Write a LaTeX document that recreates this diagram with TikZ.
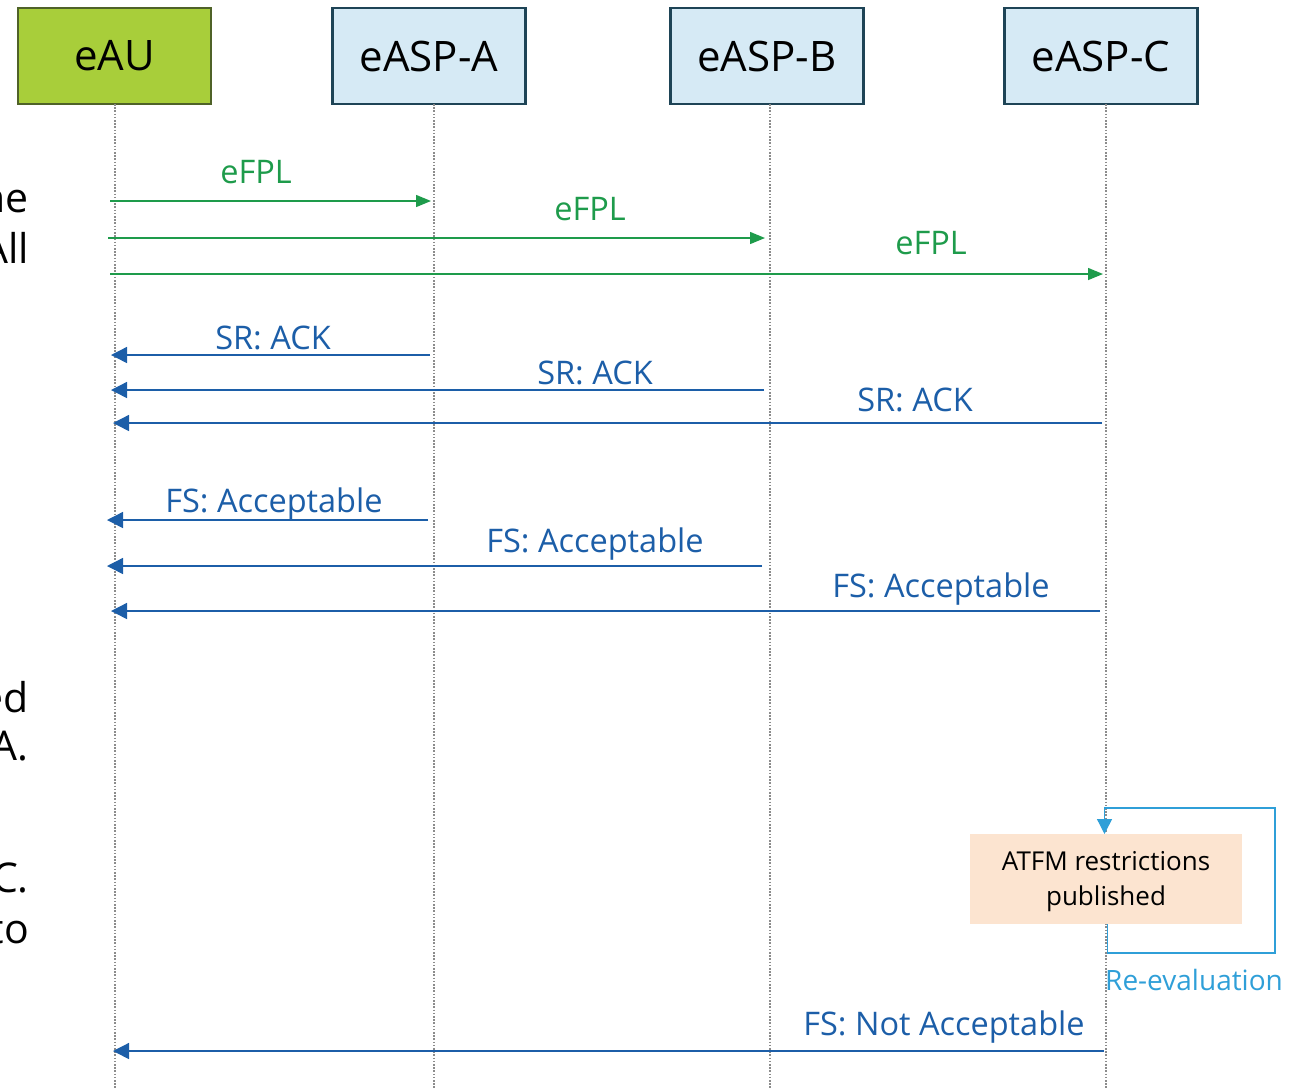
\documentclass[tikz,border=0pt]{standalone}
\usepackage{fontspec}
\setmainfont{Open Sans}
\usetikzlibrary{arrows.meta}

\definecolor{auFill}{HTML}{A8CE3A}
\definecolor{auLine}{HTML}{4F6228}
\definecolor{aspFill}{HTML}{D6EAF5}
\definecolor{aspLine}{HTML}{1E4456}
\definecolor{msgGreen}{HTML}{1E9B4B}
\definecolor{msgBlue}{HTML}{1C5EA8}
\definecolor{loopBlue}{HTML}{2F9FD8}
\definecolor{noteFill}{HTML}{FCE4D0}
\definecolor{lifeGray}{HTML}{8C8C8C}

\tikzset{
  actor/.style={minimum width=193pt, minimum height=96pt, line width=2.4pt,
    inner sep=0pt, font=\fontsize{42}{48}\selectfont},
  aubox/.style={actor, fill=auFill, draw=auLine},
  aspbox/.style={actor, fill=aspFill, draw=aspLine},
  lifeline/.style={draw=lifeGray, line width=1.6pt, dash pattern=on 1.6pt off 1.6pt},
  sendmsg/.style={draw=msgGreen, line width=1.4pt, -{Triangle[length=15pt,width=12pt]}},
  replymsg/.style={draw=msgBlue, line width=1.4pt, -{Triangle[length=16pt,width=16pt]}},
  sendlbl/.style={text=msgGreen, anchor=base, inner sep=0pt, font=\fontsize{32.5}{36}\selectfont},
  replylbl/.style={text=msgBlue, anchor=base, inner sep=0pt, font=\fontsize{32.5}{36}\selectfont},
  sidetext/.style={anchor=base east, inner sep=0pt, font=\fontsize{41}{46}\selectfont},
  note/.style={fill=noteFill, minimum width=272pt, minimum height=90pt, align=center,
    inner sep=0pt, font=\fontsize{26}{35}\selectfont},
  loopline/.style={draw=loopBlue, line width=1.3pt},
}

\begin{document}
\begin{tikzpicture}[x=1pt,y=-1pt]
\useasboundingbox (0,0) rectangle (1289,1088);

% side text running in from the left edge
\begin{scope}
\clip (0,0) rectangle (1289,1088);
\node[sidetext] (s1) at (29,212) {ne};
\node[sidetext] (s2) at (29,263) {All};
\node[sidetext] (s3) at (29,712) {ed};
\node[sidetext] (s4) at (29,760) {A.};
\node[sidetext] (s5) at (29,892) {C.};
\node[sidetext] (s6) at (29,943) {to};
\end{scope}

% participants
\node[aubox]  (eau) at (114.5,56) {eAU};
\node[aspbox] (aa)  at (429,56)   {eASP-A};
\node[aspbox] (ab)  at (767,56)   {eASP-B};
\node[aspbox] (ac)  at (1101,56)  {eASP-C};

% lifelines
\coordinate (eauEnd) at (115,1088);
\coordinate (aaEnd)  at (434,1088);
\coordinate (abEnd)  at (770,1088);
\coordinate (acEnd)  at (1106,1088);
\draw[lifeline] (115,104) -- (eauEnd);
\draw[lifeline] (434,104) -- (aaEnd);
\draw[lifeline] (770,104) -- (abEnd);
\draw[lifeline] (1106,104) -- (acEnd);

% eFPL distribution
\coordinate (f1s) at (110,201);  \coordinate (f1e) at (431,201);
\coordinate (f2s) at (108,238);  \coordinate (f2e) at (765,238);
\coordinate (f3s) at (110,274);  \coordinate (f3e) at (1103,274);
\draw[sendmsg] (f1s) -- (f1e);
\draw[sendmsg] (f2s) -- (f2e);
\draw[sendmsg] (f3s) -- (f3e);
\node[sendlbl] (lf1) at (256,183) {eFPL};
\node[sendlbl] (lf2) at (590,220) {eFPL};
\node[sendlbl] (lf3) at (931,254) {eFPL};

% SR: ACK replies
\coordinate (r1s) at (430,355);  \coordinate (r1e) at (111,355);
\coordinate (r2s) at (764,390);  \coordinate (r2e) at (111,390);
\coordinate (r3s) at (1102,423); \coordinate (r3e) at (113,423);
\draw[replymsg] (r1s) -- (r1e);
\draw[replymsg] (r2s) -- (r2e);
\draw[replymsg] (r3s) -- (r3e);
\node[replylbl] (lr1) at (273,349) {SR: ACK};
\node[replylbl] (lr2) at (595,384) {SR: ACK};
\node[replylbl] (lr3) at (915,411) {SR: ACK};

% FS: Acceptable replies
\coordinate (a1s) at (428,520);  \coordinate (a1e) at (107,520);
\coordinate (a2s) at (762,566);  \coordinate (a2e) at (107,566);
\coordinate (a3s) at (1100,611); \coordinate (a3e) at (111,611);
\draw[replymsg] (a1s) -- (a1e);
\draw[replymsg] (a2s) -- (a2e);
\draw[replymsg] (a3s) -- (a3e);
\node[replylbl] (la1) at (274,512) {FS: Acceptable};
\node[replylbl] (la2) at (595,552) {FS: Acceptable};
\node[replylbl] (la3) at (941,597) {FS: Acceptable};

% ATFM restrictions and re-evaluation loop
\node[note] (atfm) at (1106,879) {};
\node[align=center, inner sep=0pt, font=\fontsize{26}{35}\selectfont]
  (atfmtext) at (1106,882) {ATFM restrictions\\published};
\coordinate (lp0) at (1107.5,924);
\coordinate (lp1) at (1107.5,953);
\coordinate (lp2) at (1275,953);
\coordinate (lp3) at (1275,808);
\coordinate (lp4) at (1104.5,808);
\coordinate (lp5) at (1104.5,834);
\draw[loopline, -{Triangle[length=15pt,width=15pt]}]
  (lp0) -- (lp1) -- (lp2) -- (lp3) -- (lp4) -- (lp5);
\node[anchor=base west, inner sep=0pt, text=loopBlue, font=\fontsize{28}{32}\selectfont]
  (reeval) at (1105,990) {Re-evaluation};

% FS: Not Acceptable
\coordinate (n1s) at (1104,1051); \coordinate (n1e) at (113,1051);
\draw[replymsg] (n1s) -- (n1e);
\node[replylbl] (ln1) at (944,1035) {FS: Not Acceptable};
\end{tikzpicture}
\end{document}
